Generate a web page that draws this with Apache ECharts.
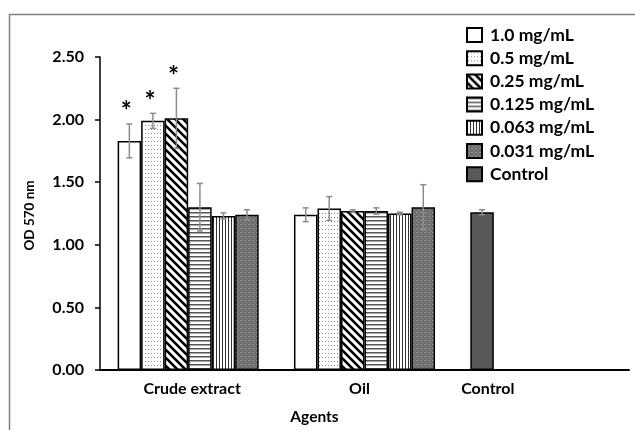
<!DOCTYPE html>
<html>
<head>
<meta charset="utf-8">
<script src="https://cdn.jsdelivr.net/npm/echarts@6/dist/echarts.min.js"></script>
<style>
html,body{margin:0;padding:0;background:#fff;}
#chart{width:635px;height:430px;}
</style>
</head>
<body>
<div id="chart"></div>
<script>
// ---- data ----
var categories = ['Crude extract', 'Oil', 'Control'];
var seriesNames = ['1.0 mg/mL', '0.5 mg/mL', '0.25 mg/mL', '0.125 mg/mL', '0.063 mg/mL', '0.031 mg/mL'];
var crudeMeans = [1.83, 1.99, 2.01, 1.30, 1.23, 1.24];
var crudeErr   = [0.135, 0.06, 0.24, 0.19, 0.025, 0.04];
var crudeSig   = ['*', '*', '*', '', '', ''];
var oilMeans   = [1.24, 1.29, 1.27, 1.27, 1.25, 1.30];
var oilErr     = [0.055, 0.095, 0.01, 0.025, 0.01, 0.18];
var oilSig     = ['', '', '', '', '', ''];
var controlName = 'Control';
var controlMean = 1.26;
var controlErr  = 0.02;
var yTicks = [0, 0.5, 1.0, 1.5, 2.0, 2.5];

// ---- styles ----
var FONT = 'Lato';
var CAT_GAP = 0.2;
var NSLOT = 6;

function tile(w, h, draw) {
  var c = document.createElement('canvas');
  c.width = w; c.height = h;
  var g = c.getContext('2d');
  draw(g, w, h);
  return { image: c, repeat: 'repeat' };
}
var fills = [
  '#ffffff',
  tile(3, 4, function (g, w, h) { g.fillStyle = '#fff'; g.fillRect(0, 0, w, h); g.fillStyle = '#888'; g.fillRect(1, 1, 1, 1); }),
  tile(8, 8, function (g, w, h) {
    g.fillStyle = '#fff'; g.fillRect(0, 0, w, h);
    g.strokeStyle = '#000'; g.lineWidth = 2.6;
    for (var k = -8; k <= 8; k += 8) { g.beginPath(); g.moveTo(k - 2, -2); g.lineTo(k + 10, 10); g.stroke(); }
  }),
  tile(4, 4, function (g, w, h) { g.fillStyle = '#fff'; g.fillRect(0, 0, w, h); g.fillStyle = '#555'; g.fillRect(0, 0, w, 1.5); }),
  tile(3, 2, function (g, w, h) { g.fillStyle = '#fff'; g.fillRect(0, 0, w, h); g.fillStyle = '#333'; g.fillRect(0, 0, 1, h); }),
  tile(4, 4, function (g, w, h) { g.fillStyle = '#6e6e6e'; g.fillRect(0, 0, w, h); g.fillStyle = '#959595'; g.fillRect(0, 0, 2, 1); g.fillRect(2, 2, 1, 1); })
];
var controlFill = '#595959';

// ---- build series ----
var series = [];
seriesNames.forEach(function (name, i) {
  series.push({
    name: name,
    type: 'bar',
    stack: 's' + i,
    data: [crudeMeans[i], oilMeans[i], null],
    itemStyle: { color: fills[i], borderColor: '#000', borderWidth: 1.5 },
    emphasis: { disabled: true }
  });
});
series.push({
  name: controlName,
  type: 'bar',
  stack: 's0',
  data: [null, null, controlMean],
  itemStyle: { color: controlFill, borderColor: '#000', borderWidth: 1.5 },
  emphasis: { disabled: true }
});

var errData = [];
seriesNames.forEach(function (n, i) {
  errData.push([0, i, crudeMeans[i], crudeErr[i], crudeSig[i]]);
  errData.push([1, i, oilMeans[i], oilErr[i], oilSig[i]]);
});
errData.push([2, 0, controlMean, controlErr, '']);

series.push({
  type: 'custom',
  name: 'err',
  z: 10,
  data: errData,
  encode: { x: 0, y: 2 },
  renderItem: function (params, api) {
    var cat = api.value(0), slot = api.value(1), m = api.value(2), e = api.value(3);
    var sig = errData[params.dataIndex][4];
    var band = api.size([1, 0])[0];
    var bw = band * (1 - CAT_GAP) / NSLOT;
    var cx = api.coord([cat, m])[0] + (slot - (NSLOT - 1) / 2) * bw;
    var yt = api.coord([cat, m + e])[1];
    var yb = api.coord([cat, m - e])[1];
    var st = { stroke: '#8c8c8c', lineWidth: 1.5 };
    var ch = [
      { type: 'line', shape: { x1: cx, y1: yt, x2: cx, y2: yb }, style: st },
      { type: 'line', shape: { x1: cx - 3, y1: yt, x2: cx + 3, y2: yt }, style: st },
      { type: 'line', shape: { x1: cx - 3, y1: yb, x2: cx + 3, y2: yb }, style: st }
    ];
    if (sig) {
      ch.push({ type: 'text', style: { text: sig, x: cx - 3, y: yt + 1, align: 'center', verticalAlign: 'bottom', font: 'bold 26px ' + FONT, fill: '#000' } });
    }
    return { type: 'group', children: ch };
  }
});

var catPad = { 'Crude extract': [0, 0, 0, 8], 'Oil': [0, 10, 0, 0], 'Control': [0, 106, 0, 0] };
var rich = {};
categories.forEach(function (c, i) {
  rich['c' + i] = { fontFamily: FONT, fontWeight: 'bold', fontSize: 16, color: '#000', padding: catPad[c] };
});

var chart = echarts.init(document.getElementById('chart'), null, { renderer: 'canvas' });
chart.setOption({
  animation: false,
  backgroundColor: '#fff',
  grid: { left: 100, right: 6, top: 57, bottom: 59, containLabel: false },
  legend: {
    orient: 'vertical',
    left: 466, top: 26, padding: 0,
    icon: 'rect',
    itemWidth: 15, itemHeight: 14, itemGap: 5.2,
    data: seriesNames.concat([controlName]),
    textStyle: { fontFamily: FONT, fontWeight: 'bold', fontSize: 17.5, lineHeight: 14, color: '#000', padding: [0, 0, 0, 3] },
    selectedMode: false
  },
  xAxis: {
    type: 'category',
    data: categories,
    axisLine: { lineStyle: { color: '#000', width: 2 } },
    axisTick: { show: false },
    axisLabel: {
      margin: 11,
      formatter: function (v, i) { return '{c' + i + '|' + v + '}'; },
      rich: rich
    },
    name: 'Agents',
    nameLocation: 'middle',
    nameGap: 39,
    nameTextStyle: { fontFamily: FONT, fontWeight: 'bold', fontSize: 15.5, color: '#000', padding: [0, 100, 0, 0] }
  },
  yAxis: {
    type: 'value',
    min: yTicks[0], max: yTicks[yTicks.length - 1], interval: yTicks[1] - yTicks[0],
    axisLine: { show: true, lineStyle: { color: '#000', width: 1.5 } },
    axisTick: { show: true, length: 5, lineStyle: { color: '#000', width: 1.5 } },
    splitLine: { show: false },
    axisLabel: {
      margin: 16,
      formatter: function (v) { return v.toFixed(2); },
      fontFamily: FONT, fontWeight: 'bold', fontSize: 16, color: '#000'
    },
    name: 'OD 570 nm',
    nameLocation: 'middle',
    nameGap: 63,
    nameTextStyle: { fontFamily: FONT, fontWeight: 'bold', fontSize: 13.5, color: '#000', padding: [0, 4, 0, 0] }
  },
  barGap: '0%',
  barCategoryGap: (CAT_GAP * 100) + '%',
  graphic: [{
    type: 'polyline',
    shape: { points: [[9.5, 430], [9.5, 14.5], [635, 14.5]] },
    style: { stroke: '#808080', lineWidth: 1.5, fill: null },
    silent: true
  }],
  series: series
});
</script>
</body>
</html>
